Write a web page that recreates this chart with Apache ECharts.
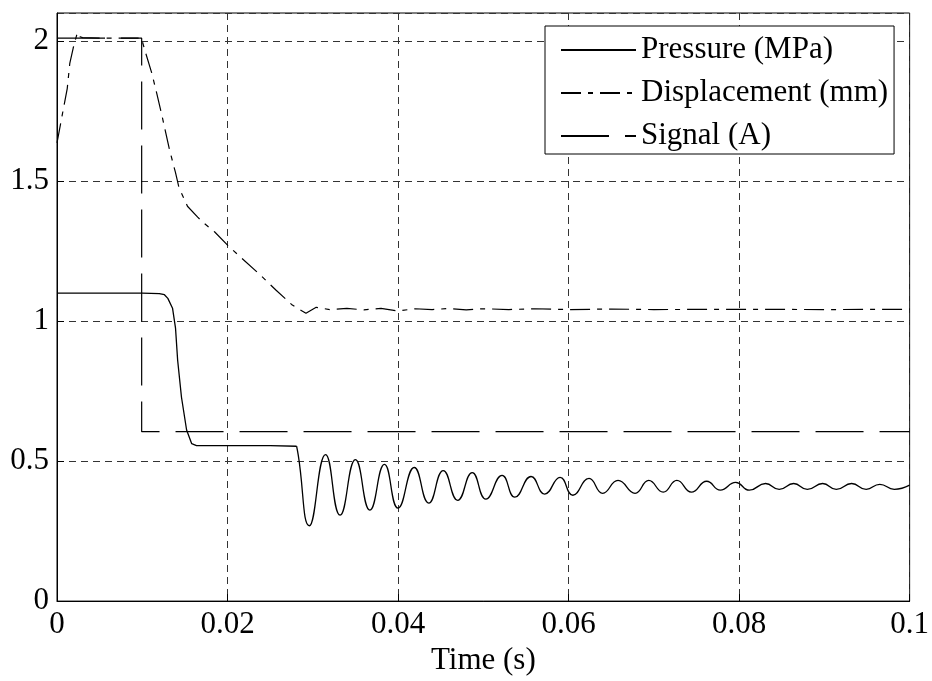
<!DOCTYPE html>
<html>
<head>
<meta charset="utf-8">
<script src="https://cdn.jsdelivr.net/npm/echarts@6/dist/echarts.min.js"></script>
<style>html,body{margin:0;padding:0;background:#fff;}#c{width:932px;height:681px;}</style>
</head>
<body>
<div id="c"></div>
<script>
// Names
var seriesNames = ['Pressure (MPa)', 'Displacement (mm)', 'Signal (A)'];
var xAxisName = 'Time (s)';

// Pressure: step-down part [time, value]
var pressureStep = [
  [0, 1.1], [0.005, 1.1], [0.010, 1.1], [0.0120, 1.098], [0.0126, 1.094], [0.0130, 1.081],
  [0.01355, 1.046], [0.0139, 0.975], [0.01415, 0.86], [0.0146, 0.728], [0.0152, 0.611],
  [0.0158, 0.562], [0.01636, 0.555], [0.020, 0.555], [0.025, 0.555], [0.0281, 0.553]
];
// Pressure: oscillating part (peaks and troughs)
var pressureOsc = [
  [0.0281, 0.553], [0.0283, 0.52], [0.0296, 0.269], [0.0315, 0.523], [0.0332, 0.307], [0.0350, 0.505],
  [0.0367, 0.325], [0.0384, 0.488], [0.0400, 0.332], [0.0419, 0.477], [0.0436, 0.350],
  [0.0453, 0.466], [0.0470, 0.360], [0.0487, 0.459], [0.0503, 0.364], [0.0522, 0.449],
  [0.0537, 0.371], [0.0556, 0.445], [0.0572, 0.382], [0.0590, 0.442], [0.0605, 0.378],
  [0.0624, 0.438], [0.0640, 0.385], [0.0658, 0.431], [0.0678, 0.385], [0.0694, 0.431],
  [0.0711, 0.389], [0.0727, 0.431], [0.0744, 0.389], [0.0762, 0.428], [0.0778, 0.396],
  [0.0796, 0.424], [0.0812, 0.396], [0.0831, 0.420], [0.0847, 0.399], [0.0864, 0.420],
  [0.0880, 0.399], [0.0898, 0.420], [0.0914, 0.399], [0.0932, 0.420], [0.0949, 0.399],
  [0.0965, 0.417], [0.0982, 0.399], [0.1000, 0.414]
];
// Displacement [time, value]
var displacement = [
  [0, 1.636], [0.0007, 1.75], [0.0012, 1.83], [0.0015, 1.92], [0.0019, 1.975], [0.0023, 2.02],
  [0.0025, 2.03], [0.0027, 2.015], [0.0030, 2.012], [0.005, 2.01], [0.0099, 2.01],
  [0.0104, 1.957], [0.0111, 1.887], [0.0117, 1.813], [0.0123, 1.735], [0.0132, 1.611],
  [0.0139, 1.530], [0.0143, 1.477], [0.0153, 1.41], [0.0165, 1.371], [0.0171, 1.353],
  [0.0185, 1.318], [0.0202, 1.265], [0.0239, 1.163], [0.0257, 1.11], [0.0270, 1.074],
  [0.0276, 1.057], [0.0292, 1.028], [0.0304, 1.049], [0.032, 1.041], [0.034, 1.045],
  [0.036, 1.040], [0.038, 1.045], [0.040, 1.036], [0.042, 1.044], [0.044, 1.041],
  [0.046, 1.045], [0.048, 1.040], [0.050, 1.044], [0.053, 1.041], [0.056, 1.044],
  [0.060, 1.041], [0.065, 1.043], [0.070, 1.041], [0.080, 1.042], [0.090, 1.041], [0.1, 1.042]
];
// Signal [time, value]
var signal = [[0, 2.01], [0.00993, 2.01], [0.00993, 0.605], [0.1, 0.605]];

// Axis ticks
var xTicks = {min: 0, max: 0.1, interval: 0.02};
var yTicks = {min: 0, max: 2.1, interval: 0.5};

var font = 'Liberation Serif, Times New Roman, serif';
var chart = echarts.init(document.getElementById('c'), null, {renderer: 'canvas'});
var gridLine = {show: true, lineStyle: {color: '#333', width: 1, type: [7, 5]}};
chart.setOption({
  animation: false,
  backgroundColor: '#fff',
  grid: {left: 57, right: 19, top: 13, bottom: 74, show: true, borderColor: '#000', borderWidth: 1, backgroundColor: 'transparent'},
  legend: {
    left: 545, top: 26, orient: 'vertical',
    data: seriesNames,
    backgroundColor: '#fff', borderColor: '#000', borderWidth: 1,
    padding: [7, 6, 1, 15], itemWidth: 75, itemHeight: 20, itemGap: 9,
    itemStyle: {opacity: 0},
    textStyle: {fontFamily: font, fontSize: 31, color: '#000', lineHeight: 34, padding: [0, 0, 0, 0]},
    inactiveColor: '#000'
  },
  xAxis: {
    type: 'value', min: xTicks.min, max: xTicks.max, interval: xTicks.interval,
    name: xAxisName, nameLocation: 'middle', nameGap: 38,
    nameTextStyle: {fontFamily: font, fontSize: 31, color: '#000'},
    axisLine: {show: true, onZero: false, lineStyle: {color: '#000', width: 1}},
    axisTick: {show: true, inside: true, length: 7, lineStyle: {color: '#000'}},
    axisLabel: {fontFamily: font, fontSize: 31, color: '#000', margin: 8,
      formatter: function (v) { return String(+v.toFixed(3)); }},
    splitLine: gridLine
  },
  yAxis: {
    type: 'value', min: yTicks.min, max: yTicks.max, interval: yTicks.interval,
    axisLine: {show: true, lineStyle: {color: '#000', width: 1}},
    axisTick: {show: true, inside: true, length: 7, lineStyle: {color: '#000'}},
    axisLabel: {fontFamily: font, fontSize: 31, color: '#000', margin: 8, showMaxLabel: false,
      formatter: function (v) { return String(+v.toFixed(2)); }},
    splitLine: gridLine
  },
  series: [
    {name: seriesNames[0], type: 'line', data: pressureStep, symbol: 'none', z: 5,
      lineStyle: {color: '#000', width: 1.3, type: 'solid'}, itemStyle: {color: '#000'}},
    {name: seriesNames[0], type: 'line', data: pressureOsc, symbol: 'none', smooth: 0.5, z: 5,
      lineStyle: {color: '#000', width: 1.3, type: 'solid'}, itemStyle: {color: '#000'}},
    {name: seriesNames[1], type: 'line', data: displacement, symbol: 'none', z: 4,
      lineStyle: {color: '#000', width: 1.2, type: [20, 7, 5, 7]}, itemStyle: {color: '#000'}},
    {name: seriesNames[2], type: 'line', data: signal, symbol: 'none', z: 3,
      lineStyle: {color: '#000', width: 1.2, type: [48, 16]}, itemStyle: {color: '#000'}}
  ]
});
</script>
</body>
</html>
